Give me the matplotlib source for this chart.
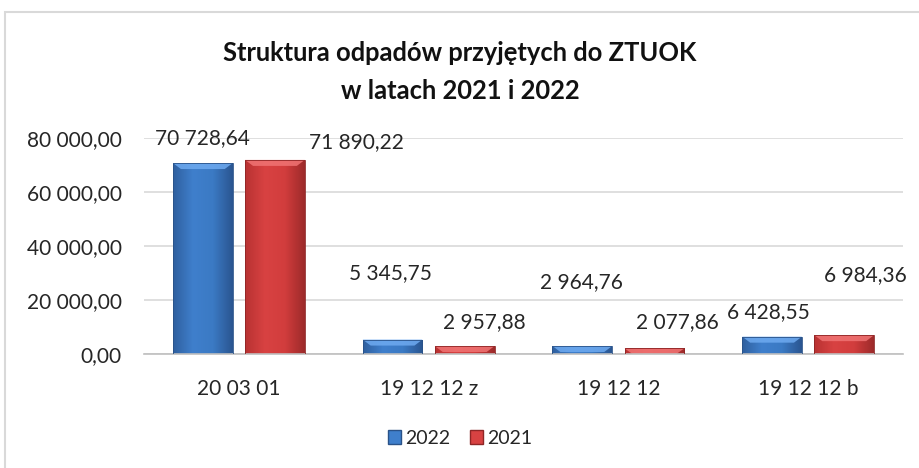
import numpy as np
import matplotlib
matplotlib.use("Agg")
import matplotlib.pyplot as plt
from matplotlib.patches import Rectangle, Polygon, Patch
from matplotlib.colors import LinearSegmentedColormap

# ---- data ----
categories = ["20 03 01", "19 12 12 z", "19 12 12", "19 12 12 b"]
series_names = ["2022", "2021"]
values_2022 = [70728.64, 5345.75, 2964.76, 6428.55]
values_2021 = [71890.22, 2957.88, 2077.86, 6984.36]
y_ticks = [0, 20000, 40000, 60000, 80000]
title = "Struktura odpadów przyjętych do ZTUOK\nw latach 2021 i 2022"

# ---- layout of data labels (manually placed in the original) ----
label_pos_2022 = [(-0.19, 80000), (0.80, 30000), (1.805, 26670), (2.79, 15560)]
label_pos_2021 = [(0.62, 78500), (1.295, 11850), (2.31, 11850), (3.30, 29260)]

FONT = ["Lato", "DejaVu Sans"]
plt.rcParams["font.family"] = FONT


def fmt(v):
    s = f"{v:,.2f}"
    return s.replace(",", " ").replace(".", ",")


fig = plt.figure(figsize=(9.2, 4.68), dpi=100)
# chart frame
fig.patches.append(Rectangle((5 / 920, -0.05), 1.2, 1 - 12 / 468 + 0.05,
                             transform=fig.transFigure, fill=False,
                             edgecolor="#d9d9d9", linewidth=1.5))

ax = fig.add_axes([144 / 920, 1 - 354 / 468, 759 / 920, 216 / 468])
ax.set_ylim(0, 80000)
ax.set_xlim(-0.5, len(categories) - 0.5)
ax.set_yticks(y_ticks)
ax.set_yticklabels([fmt(t) for t in y_ticks])
ax.yaxis.grid(True, color="#d9d9d9", linewidth=1.2)
ax.set_axisbelow(True)
for s in ["top", "right", "left"]:
    ax.spines[s].set_visible(False)
ax.spines["bottom"].set_color("#bfbfbf")
ax.spines["bottom"].set_linewidth(1.2)
ax.tick_params(axis="both", length=0, labelsize=15, colors="#262626")
ax.tick_params(axis="y", pad=16)
ax.tick_params(axis="x", pad=18)
x = np.arange(len(categories))
ax.set_xticks(x)
ax.set_xticklabels(categories)

width = 0.315
offset = 0.19
styles = {
    "2022": dict(cols=["#2f5f9e", "#3f7fcc", "#3b7ac4", "#2a5590"], top="#6eaaf0", edge="#2a5288"),
    "2021": dict(cols=["#b83232", "#d84242", "#d23d3d", "#9c2a2a"], top="#f07474", edge="#8e2626"),
}

px_per_val = 216 / 80000
bevel_px = 6
bevel_h = bevel_px / px_per_val
bevel_w = 8 / 190

for vals, name, off in [(values_2022, "2022", -offset), (values_2021, "2021", offset)]:
    st = styles[name]
    cmap = LinearSegmentedColormap.from_list(name, st["cols"])
    bars = ax.bar(x + off, vals, width, color="none", edgecolor=st["edge"],
                  linewidth=0.6, zorder=3, label=name)
    grad = np.linspace(0, 1, 256).reshape(1, -1)
    for b in bars:
        x0, w, h = b.get_x(), b.get_width(), b.get_height()
        im = ax.imshow(grad, extent=(x0, x0 + w, 0, h), aspect="auto",
                       cmap=cmap, zorder=2, interpolation="bicubic")
        im.set_clip_path(b)
        bh = min(bevel_h, h)
        poly = Polygon([(x0, h), (x0 + w, h), (x0 + w - bevel_w, h - bh),
                        (x0 + bevel_w, h - bh)], closed=True,
                       facecolor=st["top"], edgecolor="none", alpha=0.85, zorder=2.5)
        ax.add_patch(poly)
ax.set_xlim(-0.5, len(categories) - 0.5)
ax.set_ylim(0, 80000)

for vals, pos in [(values_2022, label_pos_2022), (values_2021, label_pos_2021)]:
    for v, (lx, ly) in zip(vals, pos):
        ax.text(lx, ly, fmt(v), ha="center", va="center", fontsize=15,
                color="#262626", zorder=5, clip_on=False)

fig.text(0.5, 1 - 72 / 468, title, ha="center", va="center", fontsize=18.4,
         fontweight="bold", color="#111111", linespacing=1.7)

leg_handles = [Patch(facecolor=styles[n]["cols"][1], edgecolor=styles[n]["edge"]) for n in series_names]
fig.legend(leg_handles, series_names, loc="center", bbox_to_anchor=(460 / 920, 1 - 438 / 468),
           ncol=2, frameon=False, fontsize=14, handlelength=0.7, handleheight=0.7,
           handletextpad=0.2, columnspacing=1.0, labelcolor="#262626")

fig.savefig("out.png", dpi=100)
